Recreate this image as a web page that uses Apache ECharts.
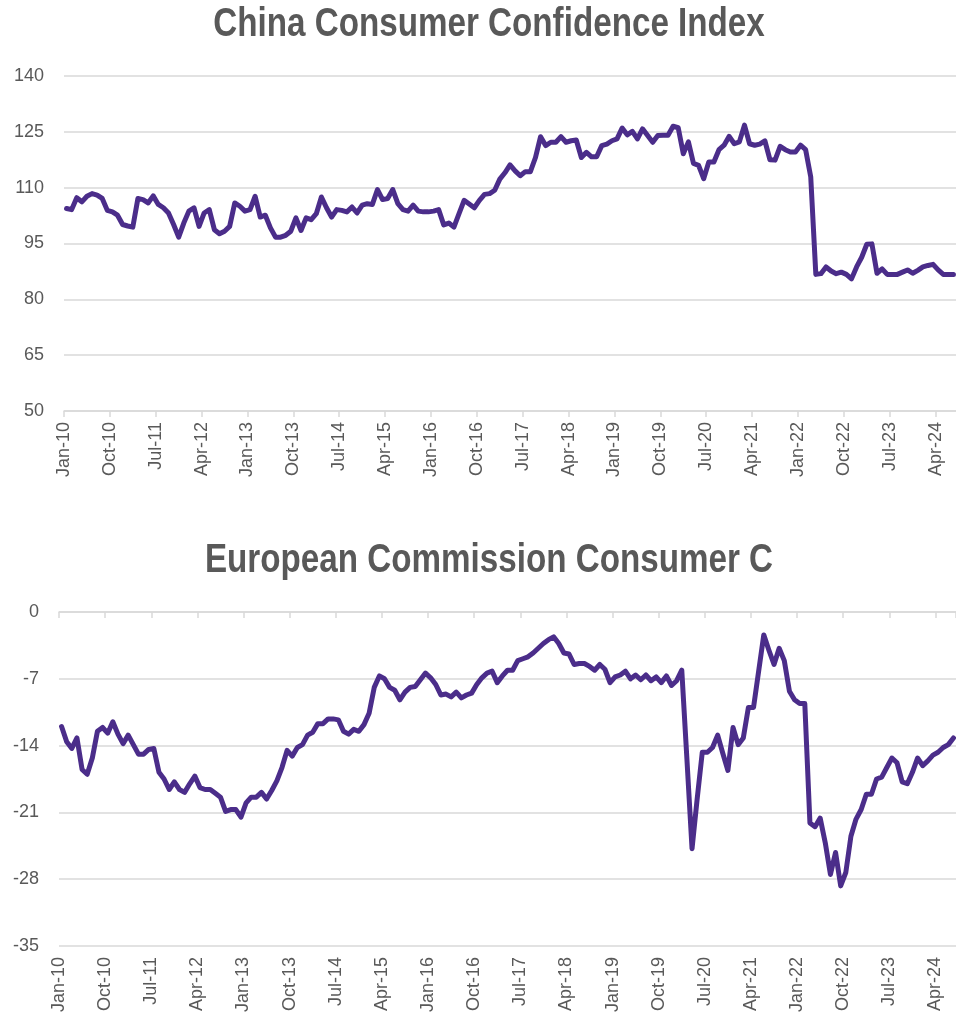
<!DOCTYPE html>
<html>
<head>
<meta charset="utf-8">
<title>Consumer Confidence</title>
<script src="https://cdn.jsdelivr.net/npm/echarts@6/dist/echarts.min.js"></script>
<style>
  html, body { margin: 0; padding: 0; background: #fff; }
  #chart { width: 956px; height: 1021px; }
</style>
</head>
<body>
<div id="chart"></div>
<script>
// tick labels, one every 9 months starting Jan-10
const tickLabels = ['Jan-10', 'Oct-10', 'Jul-11', 'Apr-12', 'Jan-13', 'Oct-13', 'Jul-14', 'Apr-15', 'Jan-16', 'Oct-16',
  'Jul-17', 'Apr-18', 'Jan-19', 'Oct-19', 'Jul-20', 'Apr-21', 'Jan-22', 'Oct-22', 'Jul-23', 'Apr-24']

// monthly values Jan-10 .. Jul-24
const chinaCci = [
  104.4, 104.1, 107.3, 106.2, 107.7, 108.4, 108.0, 107.1, 103.9, 103.5, 102.6, 100.1,
  99.7, 99.4, 107.1, 106.8, 105.9, 107.8, 105.5, 104.6, 103.2, 100.1, 96.7, 100.5,
  103.7, 104.6, 99.6, 103.2, 104.1, 98.7, 97.6, 98.3, 99.6, 105.9, 105.0, 103.7,
  104.1, 107.7, 102.1, 102.6, 99.2, 96.7, 96.7, 97.2, 98.3, 101.9, 98.5, 101.9,
  101.4, 103.0, 107.5, 104.6, 102.1, 104.1, 103.9, 103.5, 104.8, 103.2, 105.3, 105.7,
  105.5, 109.5, 106.8, 107.1, 109.5, 105.7, 104.1, 103.7, 105.3, 103.7, 103.5, 103.5,
  103.7, 104.1, 100.0, 100.5, 99.4, 103.0, 106.6, 105.6, 104.6, 106.6, 108.2, 108.4,
  109.3, 112.3, 114.0, 116.1, 114.5, 113.2, 114.3, 114.3, 118.1, 123.7, 121.3, 122.2,
  122.2, 123.7, 122.2, 122.6, 122.8, 118.1, 119.5, 118.3, 118.3, 121.3, 121.7, 122.6,
  123.1, 126.0, 124.2, 125.1, 123.1, 125.8, 124.0, 122.2, 124.0, 124.1, 124.1, 126.5,
  126.1, 119.1, 122.3, 116.5, 116.0, 112.4, 116.9, 116.9, 120.2, 121.4, 123.8, 121.8,
  122.3, 126.8, 121.8, 121.4, 121.7, 122.6, 117.5, 117.4, 121.1, 120.2, 119.6, 119.6,
  121.4, 120.2, 112.9, 86.7, 86.9, 88.7, 87.6, 86.9, 87.3, 86.7, 85.5, 88.7,
  91.3, 94.8, 94.9, 87.0, 88.2, 86.7, 86.7, 86.7, 87.3, 87.9, 87.0, 87.8,
  88.7, 89.1, 89.4, 87.9, 86.7, 86.7, 86.7
]

const ecConsumer = [
  -12.0, -13.6, -14.3, -13.2, -16.5, -17.0, -15.3, -12.5, -12.1, -12.7, -11.5, -12.8,
  -13.8, -12.9, -13.9, -14.9, -14.9, -14.4, -14.3, -16.8, -17.5, -18.6, -17.8, -18.6,
  -18.9, -18.0, -17.2, -18.4, -18.6, -18.6, -19.0, -19.4, -20.9, -20.7, -20.7, -21.5,
  -20.0, -19.4, -19.4, -18.9, -19.6, -18.7, -17.7, -16.3, -14.5, -15.1, -14.2, -13.9,
  -12.9, -12.6, -11.7, -11.7, -11.2, -11.2, -11.3, -12.5, -12.8, -12.3, -12.5, -11.8,
  -10.6, -7.9, -6.7, -7.0, -7.9, -8.2, -9.2, -8.4, -7.9, -7.8, -7.1, -6.4,
  -6.9, -7.6, -8.7, -8.6, -8.9, -8.4, -9.0, -8.7, -8.5, -7.6, -6.9, -6.4,
  -6.2, -7.4, -6.7, -6.1, -6.1, -5.1, -4.9, -4.7, -4.3, -3.8, -3.3, -2.9,
  -2.6, -3.3, -4.3, -4.4, -5.5, -5.4, -5.4, -5.7, -6.1, -5.5, -6.0, -7.4,
  -6.8, -6.6, -6.2, -7.0, -6.6, -7.1, -6.6, -7.2, -6.8, -7.4, -6.7, -7.7,
  -7.2, -6.1, -15.4, -24.8, -19.6, -14.7, -14.7, -14.2, -12.9, -14.8, -16.6, -12.1,
  -13.9, -13.2, -10.0, -10.0, -6.2, -2.4, -4.0, -5.5, -3.8, -5.1, -8.3, -9.2,
  -9.6, -9.6, -22.1, -22.5, -21.6, -24.2, -27.5, -25.2, -28.7, -27.3, -23.5, -21.7,
  -20.7, -19.1, -19.1, -17.5, -17.3, -16.3, -15.3, -15.8, -17.8, -18.0, -16.8, -15.3,
  -16.1, -15.6, -15.0, -14.7, -14.2, -13.9, -13.2
]

const monthCenter = 0.5 // points sit in the middle of each month
const textColor = '#595959'
const gridColor = '#d9d9d9'
const lineColor = '#4b2d8a'
const labelFont = '"Liberation Sans", Arial, sans-serif'

const toPoints = (values) => values.map((v, i) => [i + monthCenter, v])

const monthAxis = (gridIndex, extra) => ({
  type: 'value',
  gridIndex,
  min: 0,
  max: 175,
  interval: 9,
  splitLine: { show: false },
  axisLine: { show: true, onZero: false, lineStyle: { color: gridColor, width: 1.5 } },
  axisTick: { show: true, length: 6, lineStyle: { color: gridColor, width: 1.5 } },
  axisLabel: {
    show: true,
    rotate: 90,
    margin: 11,
    color: textColor,
    fontFamily: labelFont,
    fontSize: 18,
    showMaxLabel: false,
    formatter: (value) => (value % 9 === 0 ? tickLabels[value / 9] : '')
  },
  ...extra
})

const valueAxis = (gridIndex, min, max, interval) => ({
  type: 'value',
  gridIndex,
  min,
  max,
  interval,
  axisLine: { show: false },
  axisTick: { show: false },
  axisLabel: { color: textColor, fontFamily: labelFont, fontSize: 18, margin: 20 },
  splitLine: { show: true, lineStyle: { color: gridColor, width: 1.5 } }
})

const lineSeries = (axisIndex, values) => ({
  type: 'line',
  xAxisIndex: axisIndex,
  yAxisIndex: axisIndex === 0 ? 0 : 1,
  data: toPoints(values),
  showSymbol: false,
  lineStyle: { color: lineColor, width: 5, join: 'round', cap: 'round' }
})

// narrow bold heading: no condensed face installed, so squeeze the bold one
const heading = (text, y) => ({
  type: 'text',
  x: 489,
  y,
  scaleX: 0.83,
  style: {
    text,
    x: 0,
    y: 0,
    align: 'center',
    verticalAlign: 'middle',
    fill: textColor,
    font: 'bold 40px "Liberation Sans", Arial, sans-serif'
  }
})

const myChart = echarts.init(document.getElementById('chart'), null, { renderer: 'canvas' })
const option = {
  animation: false,
  backgroundColor: '#ffffff',
  graphic: [
    heading('China Consumer Confidence Index', 25),
    heading('European Commission Consumer C', 561)
  ],
  grid: [
    { left: 64, right: -3, top: 76, height: 335 },
    { left: 59, right: -3, top: 612, height: 334 }
  ],
  xAxis: [
    monthAxis(0, { position: 'bottom' }),
    // bottom chart: labels sit under the plot, the axis line crosses at zero
    monthAxis(1, { position: 'bottom', axisLine: { show: false }, axisTick: { show: false } }),
    monthAxis(1, {
      position: 'top',
      axisLabel: { show: false },
      axisTick: { show: true, inside: true, length: 6, lineStyle: { color: gridColor, width: 1.5 } }
    })
  ],
  yAxis: [
    valueAxis(0, 50, 140, 15),
    valueAxis(1, -35, 0, 7)
  ],
  series: [
    lineSeries(0, chinaCci),
    lineSeries(1, ecConsumer)
  ]
}
myChart.setOption(option)
window.addEventListener('resize', () => myChart.resize())
</script>
</body>
</html>
